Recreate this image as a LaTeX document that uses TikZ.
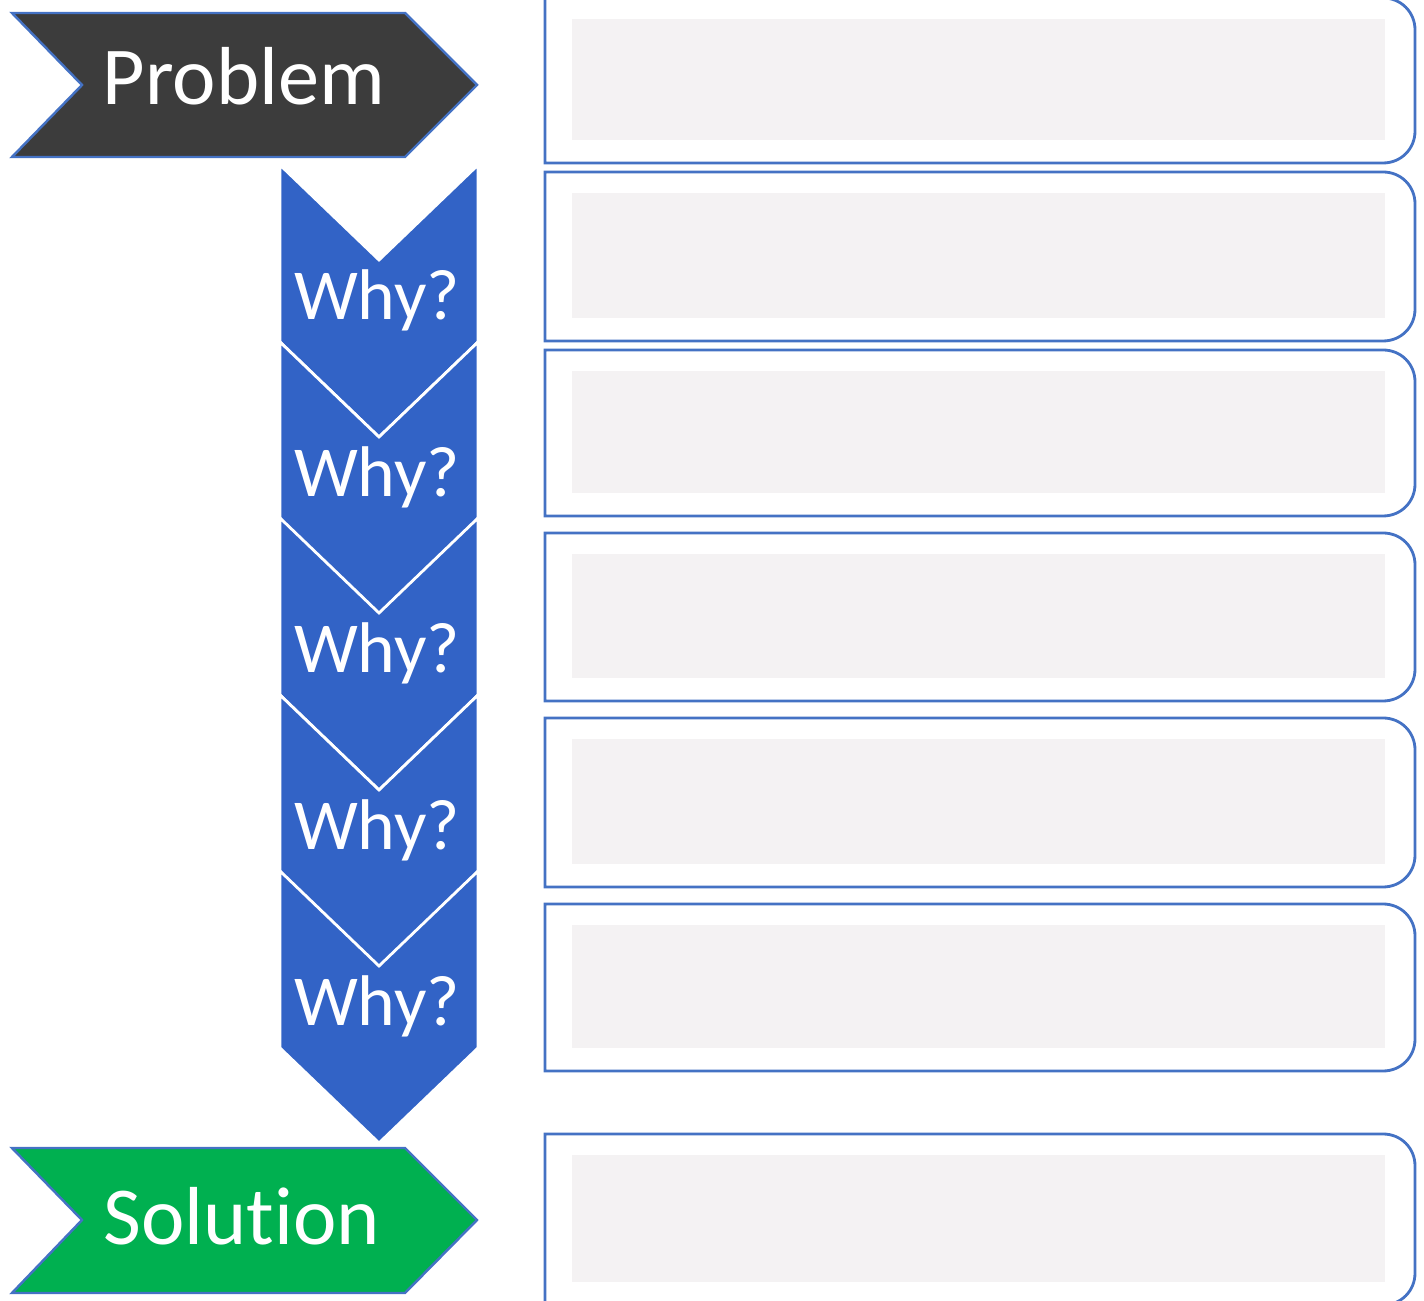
\documentclass[tikz,border=0pt]{standalone}
\usepackage{fontspec}
\setmainfont{Carlito}[Ligatures=NoCommon]
\usetikzlibrary{calc}
\definecolor{whyblue}{HTML}{3263C6}
\definecolor{edgeblue}{HTML}{4472C4}
\definecolor{probgray}{HTML}{3C3C3C}
\definecolor{solgreen}{HTML}{00B050}
\definecolor{padgray}{HTML}{F4F2F3}
\tikzset{
  bigtext/.style={anchor=base,text=white,font=\fontsize{23.4}{28}\selectfont},
  whytext/.style={anchor=base,text=white,font=\fontsize{20.4}{24}\selectfont},
  answerbox/.style={draw=edgeblue,line width=0.8pt},
}
\begin{document}
\begin{tikzpicture}[x=0.01cm,y=-0.01cm]
\useasboundingbox (0,0) rectangle (1424,1301);
\clip (0,0) rectangle (1424,1301);
% answer boxes on the right
\foreach \t/\b in {-2/163,172/341,350/516,533/701,718/887,904/1071,1134/1305}{
	\fill[padgray] (572,\t+21) rectangle (1385,\b-23);
	\draw[answerbox] (545,\b) -- (545,\t) -- (1383,\t) .. controls (1401,\t) and (1415,\t+14) .. (1415,\t+32)
		-- (1415,\b-32) .. controls (1415,\b-14) and (1401,\b) .. (1383,\b) -- cycle;
}
% problem and solution
\filldraw[fill=probgray,draw=edgeblue,line width=0.7pt] (12,13) -- (405,13) -- (477,85) -- (405,157) -- (12,157) -- (82,85) -- cycle;
\node[bigtext] (problem) at (244,105) {Problem};
\filldraw[fill=solgreen,draw=edgeblue,line width=0.7pt] (12,1148) -- (405,1148) -- (477,1220) -- (405,1293) -- (12,1293) -- (82,1220) -- cycle;
\node[bigtext] (solution) at (242,1244) {Solution};
% the five whys
\foreach \t [count=\i] in {165,342,518,695,871}{
	\filldraw[fill=whyblue,draw=white,line width=0.8pt] (280,\t) -- (379,\t+95) -- (478,\t) -- (478,\t+177) -- (379,\t+272) -- (280,\t+177) -- cycle;
	\node[whytext] (why\i) at (377,\t+155) {Why?};
}
\end{tikzpicture}
\end{document}
